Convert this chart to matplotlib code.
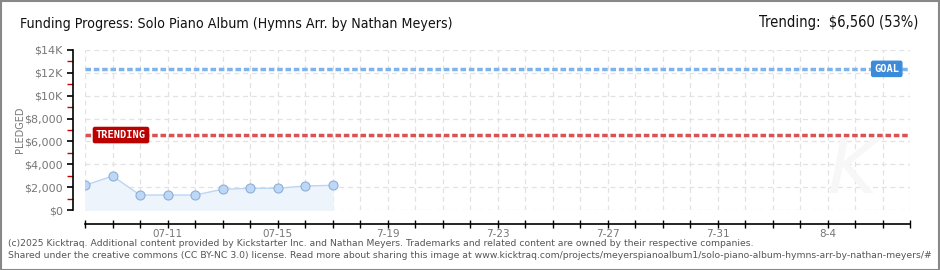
import numpy as np
import matplotlib
matplotlib.use("Agg")
import matplotlib.pyplot as plt
from matplotlib.patches import Rectangle

# data
days = np.arange(10)  # 07-08 .. 07-17
pledged = [2160, 2975, 1310, 1310, 1310, 1810, 1900, 1900, 2100, 2160]
goal = 12350
trending = 6560
day_labels = {3: "07-11", 7: "07-15", 11: "7-19", 15: "7-23", 19: "7-27", 23: "7-31", 27: "8-4"}
y_major = [0, 2000, 4000, 6000, 8000, 10000, 12000, 14000]
y_labels = ["$0", "$2,000", "$4,000", "$6,000", "$8,000", "$10K", "$12K", "$14K"]

W, H = 940, 270
fig = plt.figure(figsize=(9.4, 2.7), dpi=100)
fig.patch.set_facecolor("white")
# grey frame round the whole picture
fig.patches.append(Rectangle((0.5 / W, 0.5 / H), 1 - 1.5 / W, 1 - 1.5 / H, transform=fig.transFigure,
                             fill=False, edgecolor="#888888", linewidth=1.5))

ax = fig.add_axes([85 / W, 1 - 210 / H, (910 - 85) / W, 160 / H])
ax.set_xlim(0, 30)
ax.set_ylim(0, 14000)

# grid
for d in range(31):
    ax.axvline(d, color="#e2e2e2", lw=0.9, ls=(0, (4, 3)), zorder=0)
for v in y_major:
    ax.axhline(v, color="#e2e2e2", lw=0.9, ls=(0, (4, 3)), zorder=0)

# faint watermark
ax.text(27.9, 3300, "K", fontsize=54, style="italic", color="#f7f7f7", ha="center", va="center", zorder=0)

# series
ax.fill_between(days, pledged, 0, color="#edf4fc", zorder=1)
ax.plot(days, pledged, color="#bcd6f2", lw=1, zorder=2)
ax.plot(days, pledged, "o", ms=6.5, mfc="#bcd8f6", mec="#8eaed6", mew=0.8, zorder=3)

# goal / trending lines
ax.axhline(goal, color="#7fb4ea", lw=2.5, ls=(0, (1.6, 0.8)), zorder=2)
ax.axhline(trending, color="#d85454", lw=2.5, ls=(0, (1.6, 0.8)), zorder=2)

ax.text(0.4, trending, "TRENDING", color="white", fontsize=7.5, fontweight="bold", va="center", ha="left",
        family="DejaVu Sans Mono", zorder=5,
        bbox=dict(boxstyle="round,pad=0.25,rounding_size=0.15", fc="#bb0000", ec="#bb0000"))
ax.text(28.7, goal, "GOAL", color="white", fontsize=7.5, fontweight="bold", va="center", ha="left",
        family="DejaVu Sans Mono", zorder=5,
        bbox=dict(boxstyle="round,pad=0.25,rounding_size=0.15", fc="#3c8bda", ec="#3c8bda"))

# axes look
for s in ["top", "right"]:
    ax.spines[s].set_visible(False)
ax.spines["left"].set_position(("outward", 9))
ax.spines["bottom"].set_position(("outward", 10))
ax.spines["left"].set_linewidth(1.2)
ax.spines["bottom"].set_linewidth(1.2)

ax.set_yticks(y_major)
ax.set_yticklabels([l.replace("$", "\\$") for l in y_labels])
ax.set_yticks(np.arange(1000, 14000, 2000), minor=True)
ax.tick_params(axis="y", which="major", length=4, width=1.2, color="black",
               labelsize=8, labelcolor="#777777", pad=3)
ax.tick_params(axis="y", which="minor", length=4, width=1.0, color="#cc0000")

ax.set_xticks(np.arange(31))
ax.set_xticklabels([day_labels.get(d, "") for d in range(31)])
ax.tick_params(axis="x", which="major", direction="inout", length=6, width=1.0, color="black",
               labelsize=7.5, labelcolor="#777777", pad=1)

ax.set_ylabel("PLEDGED", fontsize=7, color="#777777")
ax.yaxis.set_label_coords((25 - 85) / 825, 0.5)

# titles
fig.text(20 / W, 1 - 24 / H, "Funding Progress: Solo Piano Album (Hymns Arr. by Nathan Meyers)",
         fontsize=10.2, family="DejaVu Sans", fontstretch="condensed", va="center", ha="left",
         color="#111111")
fig.text(918 / W, 1 - 22 / H, "Trending:  \\$6,560 (53%)", fontsize=10.5,
         family="DejaVu Sans", fontstretch="condensed", va="center", ha="right", color="#111111")

# footer
fig.text(8 / W, 1 - 244 / H,
         "(c)2025 Kicktraq. Additional content provided by Kickstarter Inc. and Nathan Meyers. "
         "Trademarks and related content are owned by their respective companies.",
         fontsize=6.7, color="#555555", va="center", ha="left")
fig.text(8 / W, 1 - 256 / H,
         "Shared under the creative commons (CC BY-NC 3.0) license. Read more about sharing this image at "
         "www.kicktraq.com/projects/meyerspianoalbum1/solo-piano-album-hymns-arr-by-nathan-meyers/#",
         fontsize=6.7, color="#555555", va="center", ha="left")

fig.savefig("out.png", dpi=100)
